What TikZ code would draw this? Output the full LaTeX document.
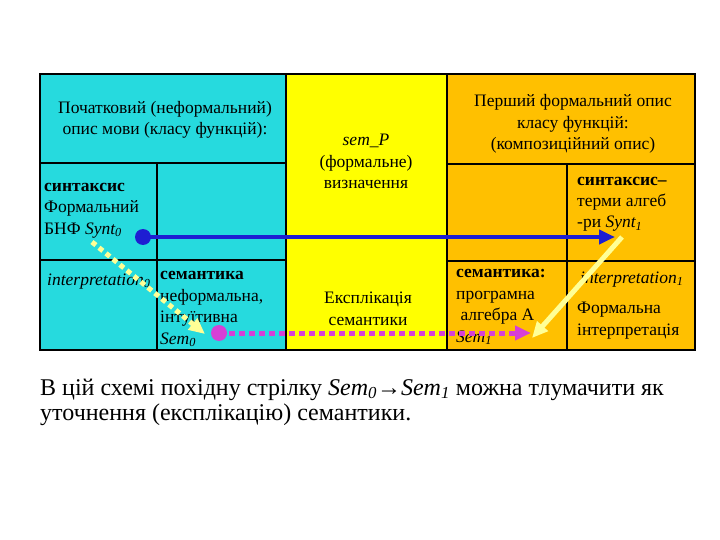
\documentclass[tikz,border=0pt]{standalone}
\usepackage{fontspec}
\setmainfont{Liberation Serif}
\usetikzlibrary{arrows.meta}

\definecolor{cyancell}{RGB}{38,218,222}
\definecolor{yellowcell}{RGB}{255,255,0}
\definecolor{orangecell}{RGB}{255,192,0}
\definecolor{bluearrow}{RGB}{30,30,210}
\definecolor{pinkarrow}{RGB}{214,64,214}
\definecolor{paleyellow}{RGB}{255,255,150}

\tikzset{
  cellline/.style={draw=black, line width=1.6pt},
  txt/.style={font=\fontsize{17.5}{21.5}\selectfont, inner sep=0pt},
  lefttxt/.style={txt, align=left, anchor=base west},
  midtxt/.style={txt, align=center, anchor=base},
  tip/.style={-{Triangle[length=16pt,width=14pt]}}
}

\begin{document}
\begin{tikzpicture}[x=1pt,y=-1pt]
    \useasboundingbox (0,0) rectangle (720,540);
    % the three columns
    \fill[cyancell] (40,74) rectangle (286,350);
    \fill[yellowcell] (286,74) rectangle (447,350);
    \fill[orangecell] (447,74) rectangle (695,350);
    \draw[cellline] (40,74) rectangle (695,350);
    \draw[cellline] (286,74) -- (286,350) (447,74) -- (447,350);
    \draw[cellline] (40,163) -- (286,163) (157,163) -- (157,350) (40,260) -- (286,260);
    \draw[cellline] (447,164) -- (695,164) (567,164) -- (567,350) (447,261) -- (695,261);
    % informal description (base = last line)
    \node[midtxt] (hdSrc) at (165,135) {Початковий (неформальний)\\опис мови (класу функцій):};
    \node[lefttxt] (synSrc) at (44,234) {\textbf{синтаксис}\\Формальний\\БНФ \textit{Synt\textsubscript{0}}};
    \node[lefttxt] (intSrc) at (47,285) {\textit{interpretation\textsubscript{0}}};
    \node[lefttxt] (semSrc) at (160,344) {\textbf{семантика}\\неформальна,\\інтуїтивна\\\textit{Sem\textsubscript{0}}};
    % middle column
    \node[midtxt] (semP) at (366,189) {\textit{sem\_P}\\(формальне)\\визначення};
    \node[midtxt] (expl) at (368,325) {Експлікація\\семантики};
    % first formal description
    \node[midtxt] (hdDst) at (573,150) {Перший формальний опис\\класу функцій:\\(композиційний опис)};
    \node[lefttxt] (synDst) at (577,228) {\textbf{синтаксис–}\\терми алгеб\\-ри \textit{Synt\textsubscript{1}}};
    \node[lefttxt] (semDst) at (456,342) {\textbf{семантика:}\\програмна\\\ алгебра А\\\textit{Sem\textsubscript{1}}};
    \node[lefttxt] (intDst) at (580,283) {\textit{interpretation\textsubscript{1}}};
    \node[lefttxt] (frmDst) at (577,335) {Формальна\\інтерпретація};
    % arrows
    \coordinate (s0) at (143,237);
    \coordinate (s1) at (615,237);
    \coordinate (i0) at (92,242);
    \coordinate (m0) at (205,334);
    \coordinate (p0) at (219,333);
    \coordinate (p1) at (531,333);
    \coordinate (i1) at (622,237);
    \coordinate (m1) at (532,338);
    \draw[bluearrow, line width=4pt, tip] (s0) -- (s1);
    \fill[bluearrow] (s0) circle (8);
    \draw[paleyellow, line width=5pt, dash pattern=on 5pt off 4pt, tip] (i0) -- (m0);
    \draw[pinkarrow, line width=5pt, dash pattern=on 6pt off 4pt, tip] (p0) -- (p1);
    \fill[pinkarrow] (p0) circle (8);
    \draw[paleyellow, line width=5pt, tip] (i1) -- (m1);
    % remark below
    \node[anchor=base west, align=left, inner sep=0pt, font=\fontsize{24}{25}\selectfont] (note) at (40,420)
        {В цій схемі похідну стрілку \textit{Sem\textsubscript{0}}→\textit{Sem\textsubscript{1}} можна тлумачити як\\уточнення (експлікацію) семантики.};
\end{tikzpicture}
\end{document}
